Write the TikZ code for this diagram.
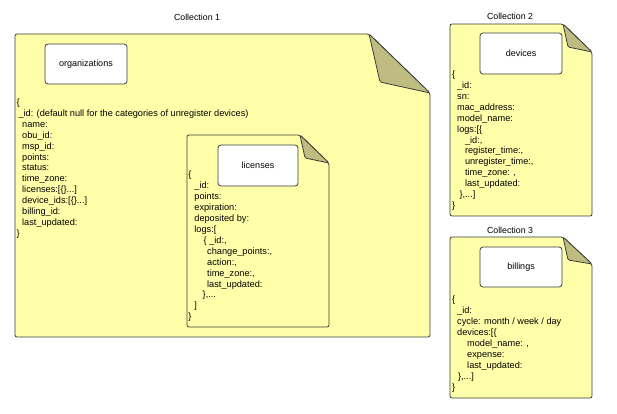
\documentclass[tikz,border=0pt]{standalone}
\usepackage{fontspec}
\setmainfont{Liberation Sans}
\usetikzlibrary{calc}
\definecolor{docyellow}{RGB}{255,255,170}
\definecolor{foldolive}{RGB}{190,188,128}
\definecolor{edgegray}{RGB}{60,60,60}
\tikzset{doc/.style = {draw=edgegray, fill=docyellow, line width=0.8pt,
        rounded corners=2pt},%
    fold/.style = {draw=edgegray, fill=foldolive, line width=0.8pt,
        rounded corners=1.5pt, line join=round},%
    titlebox/.style = {draw=edgegray, fill=white, line width=0.8pt,
        rounded corners=3pt, inner sep=0pt, font=\fontsize{9}{11}\selectfont},%
    field/.style = {anchor=base west, inner sep=0pt,
        font=\fontsize{9.2}{11}\selectfont},%
    caption/.style = {inner sep=0pt, font=\fontsize{8.8}{11}\selectfont}}

\begin{document}
\begin{tikzpicture}[x=1pt,y=-1pt]
    \useasboundingbox (0,0) rectangle (617,414);
    % collection 1
    \node[caption] (cap1) at (197,17.3) {Collection 1};
    \draw[doc] (15,34) -- (369,34) -- (430,93) -- (430,337) -- (15,337) -- cycle;
    \draw[fold] (369,34) -- (380,82) -- (430,93) -- cycle;
    \node[titlebox, minimum width=82pt, minimum height=40pt] (orgs) at (86,64) {organizations};
    \foreach \dx/\t [count=\i from 0] in {0/{\{},
        1.8/{\_id: (default null for the categories of unregister devices)},
        5.5/{name:}, 5.5/{obu\_id:}, 5.5/{msp\_id:}, 5.5/{points:},
        5.5/{status:}, 5.5/{time\_zone:}, 5.5/{licenses:[\{\}...]},
        5.5/{device\_ids:[\{\}...]}, 5.5/{billing\_id:},
        5.5/{last\_updated:}, 0/{\}}}
      \node[field] (org-\i) at (16.5+\dx,105.5+10.9*\i) {\t};
    % embedded licenses
    \draw[doc] (187,135) -- (300,135) -- (329,163) -- (329,327) -- (187,327) -- cycle;
    \draw[fold] (300,135) -- (305,158) -- (329,163) -- cycle;
    \node[titlebox, minimum width=80pt, minimum height=41pt] (lics) at (258,165.5) {licenses};
    \foreach \dx/\t [count=\i from 0] in {0/{\{}, 6/{\_id:}, 6/{points:},
        6/{expiration:}, 6/{deposited by:}, 6/{logs:[},
        15.3/{\{ \_id:,}, 18.8/{change\_points:,}, 18.8/{action:,},
        18.8/{time\_zone:,}, 18.8/{last\_updated:}, 14.3/{\},...},
        6/{]}, 0/{\}}}
      \node[field] (lic-\i) at (188.2+\dx,177.5+10.95*\i) {\t};
    % collection 2
    \node[caption] (cap2) at (510,16.7) {Collection 2};
    \draw[doc] (450,24) -- (563,24) -- (592,52) -- (592,216) -- (450,216) -- cycle;
    \draw[fold] (563,24) -- (568,47) -- (592,52) -- cycle;
    \node[titlebox, minimum width=82pt, minimum height=41pt] (devs) at (521,53.5) {devices};
    \foreach \dx/\t [count=\i from 0] in {0/{\{}, 4.8/{\_id:}, 5/{sn:},
        5/{mac\_address:}, 5/{model\_name:}, 5/{logs:[\{},
        12.8/{\_id:,}, 12.8/{register\_time:,}, 12.8/{unregister\_time:,},
        12.8/{time\_zone: ,}, 12.8/{last\_updated:}, 7.3/{\},...]},
        0/{\}}}
      \node[field] (dev-\i) at (452+\dx,78+10.85*\i) {\t};
    % collection 3
    \node[caption] (cap3) at (510,230) {Collection 3};
    \draw[doc] (450,237) -- (563,237) -- (592,264) -- (592,398) -- (450,398) -- cycle;
    \draw[fold] (563,237) -- (568,260) -- (592,264) -- cycle;
    \node[titlebox, minimum width=82pt, minimum height=40pt] (bills) at (521,267) {billings};
    \foreach \dx/\t [count=\i from 0] in {0/{\{}, 5/{\_id:},
        5/{cycle: month / week / day}, 5/{devices:[\{},
        15/{model\_name: ,}, 15/{expense:}, 15/{last\_updated:},
        5.8/{\},...]}, 0/{\}}}
      \node[field] (bil-\i) at (452+\dx,302+11*\i) {\t};
  \end{tikzpicture}
\end{document}
